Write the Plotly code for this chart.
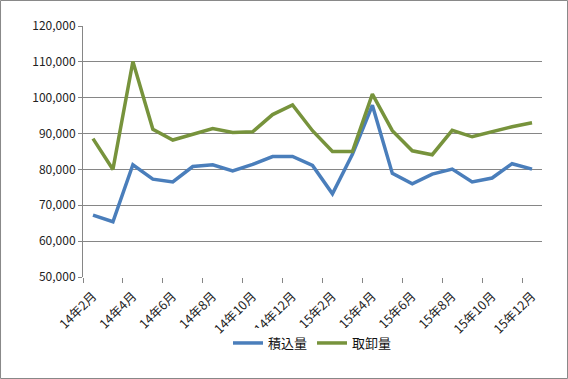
import plotly.graph_objects as go

months = ["14年2月", "14年3月", "14年4月", "14年5月", "14年6月", "14年7月", "14年8月", "14年9月",
          "14年10月", "14年11月", "14年12月", "15年1月", "15年2月", "15年3月", "15年4月", "15年5月",
          "15年6月", "15年7月", "15年8月", "15年9月", "15年10月", "15年11月", "15年12月"]
loading = [67250, 65400, 81300, 77300, 76500, 80800, 81300, 79600, 81400, 83600, 83600, 81100,
           73200, 84200, 97900, 78900, 76000, 78700, 80100, 76500, 77600, 81600, 80100]
unloading = [88600, 80000, 110100, 91200, 88200, 89900, 91400, 90300, 90500, 95300, 98000, 90800,
             85000, 85000, 101000, 90800, 85200, 84100, 90900, 89100, 90500, 91900, 93000]
series_names = ["積込量", "取卸量"]
colors = ["#4A7EBB", "#77933C"]

x = list(range(len(months)))
fig = go.Figure()
for name, vals, c in zip(series_names, [loading, unloading], colors):
    fig.add_trace(go.Scatter(x=x, y=vals, mode="lines", name=name,
                             line=dict(color=c, width=3.5)))

font = "Noto Sans CJK JP"
fig.update_layout(
    width=568, height=379,
    margin=dict(l=83, r=26, t=26, b=102),
    paper_bgcolor="white", plot_bgcolor="white",
    font=dict(family=font, size=12, color="#222"),
    showlegend=True,
    legend=dict(orientation="h", x=0.5, xanchor="center", y=-0.263, yanchor="middle",
                font=dict(size=13, color="#111"), traceorder="normal", itemwidth=30),
    xaxis=dict(range=[-0.5, 22.5], tickmode="array", tickvals=x[::2], ticktext=months[::2],
               tickangle=-45, ticks="outside", ticklen=0, tickcolor="#868686",
               ticklabelstandoff=6,
               showgrid=False, zeroline=False, showline=False,
               minor=dict(tickmode="array", tickvals=[v - 0.5 for v in x[::2]],
                          ticks="outside", ticklen=5, tickcolor="#868686", tickwidth=1,
                          showgrid=False),
               tickfont=dict(size=12.5, color="#222")),
    yaxis=dict(range=[50000, 120000], dtick=10000, tickformat=",d", showgrid=True,
               gridcolor="#868686", gridwidth=1, zeroline=False, showline=True,
               linecolor="#868686", linewidth=1, ticks="outside", ticklen=4,
               tickcolor="#868686", tickfont=dict(size=12, color="#222")),
    shapes=[dict(type="rect", xref="paper", yref="paper",
                 x0=-0.1797, x1=1.0556, y0=-0.4044, y1=1.1016,
                 line=dict(color="#888888", width=1))],
)
fig.write_html("out.html", config={"displayModeBar": False},
               post_script="document.body.style.margin='0';document.body.style.padding='0';document.body.style.overflow='hidden';")
